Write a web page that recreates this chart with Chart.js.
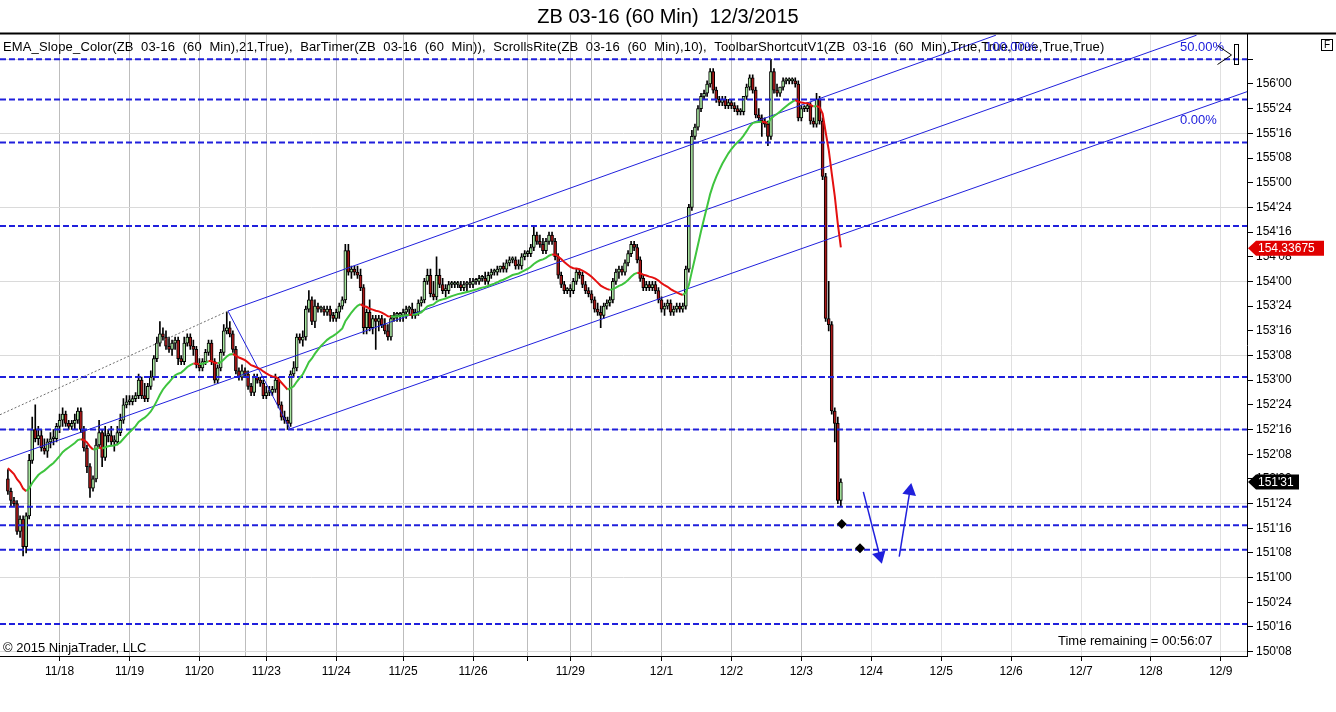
<!DOCTYPE html>
<html>
<head>
<meta charset="utf-8">
<title>ZB 03-16 (60 Min) 12/3/2015</title>
<script src="https://cdn.jsdelivr.net/npm/chart.js@4.4.1/dist/chart.umd.min.js"></script>
<style>
  html, body { margin: 0; padding: 0; background: #fff; }
  canvas { display: block; }
</style>
</head>
<body>
<canvas id="zbChart" width="1336" height="712"></canvas>
<script>
// Prices are kept in 32nds above 150'00 (63 = 151'31), one hourly bar per entry.
const BASE = 150;

const opens = [
  64,60,57,56,47,51,42,52,70,80, 77,78,74,73,76,77,77,81,83,85,
  82,81,82,83,86,80,74,68,61,64, 75,79,71,78,78,76,76,79,83,88,
  89,89,90,91,96,91,90,94,97,103, 108,111,110,107,106,108,109,103,102,108,
  110,107,106,101,100,102,105,108,102,96, 100,105,112,113,111,106,99,97,99,98,
  94,92,97,96,95,91,92,92,93,96, 88,84,83,82,98,100,110,109,110,119,
  122,115,120,119,119,118,119,117,116,118, 120,122,138,131,132,131,130,126,113,118,
  113,116,115,116,114,112,110,116,117,117, 117,118,119,119,117,118,121,122,128,130,
  124,123,130,127,125,125,127,127,127,127, 126,127,127,127,128,128,129,129,128,130,
  131,131,132,133,132,134,135,135,133,133, 136,137,137,139,143,141,140,138,141,143,
  141,136,130,127,125,125,125,128,131,130, 127,125,124,122,119,118,117,120,121,122,
  128,131,132,131,134,137,140,139,135,129, 126,127,126,127,125,122,119,120,121,118,
  119,120,119,120,132,152,175,178,184,188, 189,192,196,190,187,186,187,185,186,185,
  184,183,183,188,191,194,190,182,181,180, 179,175,196,190,189,191,193,193,193,193,
  192,181,184,184,185,180,179,187,180,162, 116,114,86,82,57
];
const highs = [
  67,61,58,57,52,52,53,72,84,88, 81,80,77,77,79,80,82,85,87,86,
  83,83,85,87,87,81,75,69,65,77, 83,80,81,80,81,78,81,85,90,91,
  91,91,92,98,97,95,95,99,104,110, 115,113,112,110,109,110,110,104,110,111,
  111,109,107,103,103,106,109,109,103,101, 106,114,118,115,112,107,100,101,100,99,
  95,98,98,97,96,94,94,94,98,97, 89,86,84,99,102,111,111,112,120,125,
  123,122,121,120,120,120,120,118,119,121, 123,140,140,133,133,133,132,127,119,122,
  117,117,117,117,116,114,117,118,118,118, 119,120,120,121,119,122,123,129,132,132,
  128,136,132,129,127,128,128,128,128,128, 128,128,129,129,129,130,130,131,131,132,
  132,133,133,134,135,136,136,136,135,137, 138,138,140,146,144,143,142,142,144,144,
  142,137,131,128,126,127,129,132,132,131, 128,126,125,123,121,120,121,122,123,129,
  132,133,133,135,138,141,141,140,136,130, 128,128,128,128,126,123,121,122,122,120,
  121,121,121,133,153,177,179,185,189,190, 193,197,197,191,188,188,188,187,187,186,
  185,184,188,192,195,195,191,184,182,181, 180,200,197,192,191,194,194,194,194,194,
  193,185,185,186,186,181,189,188,181,163, 128,115,87,84,64
];
const lows = [
  59,55,55,46,45,39,40,51,69,76, 75,73,72,71,74,75,76,79,81,81,
  80,80,80,82,79,73,66,58,60,63, 74,68,70,76,75,73,75,78,82,87,
  88,88,89,90,90,89,89,93,96,102, 107,109,106,105,104,106,101,101,101,107,
  106,104,100,99,99,101,104,101,95,95, 99,104,111,110,105,98,96,96,97,93,
  91,91,95,94,90,90,91,91,92,87, 83,82,80,81,97,99,108,107,109,118,
  114,113,118,118,117,117,115,115,115,116, 119,121,130,129,130,129,125,111,111,112,
  111,106,112,113,111,109,109,115,115,115, 115,116,117,116,116,117,120,121,127,123,
  122,122,126,124,123,124,126,126,126,125, 125,125,126,126,127,127,128,127,127,129,
  130,130,131,131,131,133,134,132,132,132, 135,136,136,138,140,139,137,137,140,140,
  135,129,126,124,124,123,124,127,129,126, 124,123,121,118,117,113,116,119,120,121,
  127,129,130,130,133,136,138,134,128,125, 125,125,125,124,121,118,117,119,117,117,
  118,118,118,119,131,151,174,177,183,187, 188,191,189,186,185,185,184,184,184,183,
  182,182,182,187,190,189,181,180,175,178, 172,174,189,188,188,190,192,192,192,191,
  180,180,183,183,179,178,178,179,161,115, 112,85,76,56,55
];
const closes = [
  60,57,56,47,51,42,52,70,80,77, 78,74,73,76,77,77,81,83,85,82,
  81,82,83,86,80,74,68,61,64,75, 79,71,78,78,76,76,79,83,88,89,
  89,90,91,96,91,90,94,97,103,108, 111,110,107,106,108,109,103,102,108,110,
  107,106,101,100,102,105,108,102,96,100, 105,112,113,111,106,99,97,99,98,94,
  92,97,96,95,91,92,92,93,96,88, 84,83,82,98,100,110,109,110,119,122,
  115,120,119,119,118,119,117,116,118,120, 122,138,131,132,131,130,126,113,118,113,
  116,115,116,114,112,110,116,117,117,117, 118,119,119,117,118,121,122,128,130,124,
  123,130,127,125,125,127,127,127,127,126, 127,127,127,128,128,129,129,128,130,131,
  131,132,133,132,134,135,135,133,133,136, 137,137,139,143,141,140,138,141,143,141,
  136,130,127,125,125,125,128,131,130,127, 125,124,122,119,118,117,120,121,122,128,
  131,132,131,134,137,140,139,135,129,126, 127,126,127,125,122,119,120,121,118,119,
  120,119,120,132,152,175,178,184,188,189, 192,196,190,187,186,187,185,186,185,184,
  183,183,188,191,194,190,182,181,180,179, 175,196,190,189,191,193,193,193,193,192,
  181,184,184,185,180,179,187,180,162,116, 114,86,82,57,63
];

// date labels sit on the bar index where that date begins
const dateTicks  = [17, 40, 63, 85, 108, 130, 153, 171, 185, 215, 238, 261, 284, 307, 330, 353, 376, 399];
const dateLabels = ['11/18','11/19','11/20','11/23','11/24','11/25','11/26','','11/29','12/1','12/2','12/3','12/4','12/5','12/6','12/7','12/8','12/9'];
const sessionBreaks = [78, 192];

// drawn horizontal levels (32nds above 150)
const levels = [200, 187, 173, 146, 97, 80, 55, 49, 41, 17];

// channel drawn on the chart, [bar, 32nds]
const upperLine  = [[72.4, 118.4], [325, 207.8]];
const middleLine = [[-2.6, 69.8], [391, 207.8]];
const lowerLine  = [[92.8, 80.2], [407.6, 189.5]];
const handleLine = [[72.4, 118.4], [92.8, 80.2]];
const dottedLine = [[-2.6, 84.8], [72.4, 118.4]];

const diamonds = [[274.3, 49.4], [280.3, 41.5]];
const arrowDown = [[281.4, 59.8], [286.8, 39.0]];
const arrowUp   = [[293.2, 38.8], [296.7, 60.1]];

const EMA_LEN = 21;
const emaStart = 67.5;       // EMA value at the first visible bar
const emaLast = 154.33675;   // value shown in the red price marker

const X_MIN = -2.6, X_MAX = 407.6;
const Y_MIN = 6.6, Y_MAX = 208;
const FONT = '"Liberation Sans", Arial, sans-serif';
const BLUE = '#2020dc';

function fmt32(t) {
  const whole = BASE + Math.floor(t / 32);
  const frac = t % 32;
  return whole + "'" + String(frac).padStart(2, '0');
}

const k = 2 / (EMA_LEN + 1);
const ema = [emaStart];
for (let i = 1; i < closes.length; i++) {
  ema.push(ema[i - 1] + k * (closes[i] - ema[i - 1]));
}

const pts = arr => arr.map(p => ({ x: p[0], y: p[1] }));
const thinLine = (arr, extra) => Object.assign({
  type: 'line', data: pts(arr), borderColor: BLUE, borderWidth: 1,
  pointRadius: 0, fill: false, order: 2
}, extra || {});

const datasets = [
  {
    type: 'bar',
    data: closes.map((c, i) => ({ x: i, y: [opens[i], c] })),
    backgroundColor: ctx => {
      const i = ctx.dataIndex;
      return closes[i] >= opens[i] ? '#a8e6a0' : '#a81818';
    },
    borderColor: '#000',
    borderWidth: 1,
    borderSkipped: false,
    barThickness: 3,
    minBarLength: 2,
    grouped: false,
    order: 4
  },
  {
    type: 'bar',
    data: closes.map((c, i) => ({ x: i, y: [lows[i], highs[i]] })),
    backgroundColor: '#000',
    borderWidth: 0,
    barThickness: 1,
    grouped: false,
    order: 5
  }
];

levels.forEach(v => {
  datasets.push({
    type: 'line',
    data: [{ x: X_MIN, y: v }, { x: X_MAX, y: v }],
    borderColor: BLUE, borderWidth: 2, borderDash: [6, 3],
    pointRadius: 0, order: 3
  });
});

datasets.push(thinLine(upperLine));
datasets.push(thinLine(middleLine));
datasets.push(thinLine(lowerLine));
datasets.push(thinLine(handleLine));
datasets.push(thinLine(dottedLine, { borderColor: '#6e6e6e', borderDash: [2, 2] }));

datasets.push({
  type: 'line',
  data: ema.map((v, i) => ({ x: i, y: v })),
  borderWidth: 2,
  pointRadius: 0,
  segment: {
    borderColor: c => c.p1.parsed.y >= c.p0.parsed.y ? '#3fc43f' : '#e41010'
  },
  order: 1
});

datasets.push(thinLine(arrowDown, { borderWidth: 1.5, order: 0 }));
datasets.push(thinLine(arrowUp, { borderWidth: 1.5, order: 0 }));
datasets.push({
  type: 'line', data: [pts(arrowDown)[1]], showLine: false,
  pointStyle: 'triangle', pointRadius: 8, pointRotation: 165,
  pointBackgroundColor: BLUE, pointBorderWidth: 0, order: 0
});
datasets.push({
  type: 'line', data: [pts(arrowUp)[1]], showLine: false,
  pointStyle: 'triangle', pointRadius: 8, pointRotation: 10,
  pointBackgroundColor: BLUE, pointBorderWidth: 0, order: 0
});
datasets.push({
  type: 'line', data: pts(diamonds), showLine: false,
  pointStyle: 'rectRot', pointRadius: 5,
  pointBackgroundColor: '#000', pointBorderWidth: 0, order: 0
});

const indicatorText = 'EMA_Slope_Color(ZB  03-16  (60  Min),21,True),  BarTimer(ZB  03-16  (60  Min)),  ' +
  'ScrollsRite(ZB  03-16  (60  Min),10),  ToolbarShortcutV1(ZB  03-16  (60  Min),True,True,True,True,True)';

function priceFlag(ctx, x, y, text, color, w) {
  ctx.fillStyle = color;
  ctx.beginPath();
  ctx.moveTo(x + 1, y);
  ctx.lineTo(x + 9, y - 7.5);
  ctx.lineTo(x + w, y - 7.5);
  ctx.lineTo(x + w, y + 7.5);
  ctx.lineTo(x + 9, y + 7.5);
  ctx.closePath();
  ctx.fill();
  ctx.fillStyle = '#fff';
  ctx.fillText(text, x + 11, y + 0.5);
}

const overlay = {
  id: 'overlay',
  afterDraw(chart) {
    const { ctx, chartArea: a } = chart;
    const y = chart.scales.y;
    ctx.save();
    ctx.strokeStyle = '#000';
    ctx.lineWidth = 2;
    ctx.beginPath();
    ctx.moveTo(0, a.top - 1);
    ctx.lineTo(chart.width, a.top - 1);
    ctx.stroke();

    ctx.textBaseline = 'middle';
    ctx.fillStyle = '#000';
    ctx.font = '13px ' + FONT;
    ctx.letterSpacing = '0.15px';
    ctx.fillText(indicatorText, 3, a.top + 12.5);
    ctx.letterSpacing = '0px';
    ctx.fillText('\u00a9 2015 NinjaTrader, LLC', 3, a.bottom - 8);
    ctx.fillText('Time remaining = 00:56:07', 1058, a.bottom - 15);

    ctx.fillStyle = BLUE;
    ctx.fillText('100.00%', 985, a.top + 12.5);
    ctx.fillText('50.00%', 1180, a.top + 12.5);
    ctx.fillText('0.00%', 1180, 120);

    ctx.font = '12px ' + FONT;
    priceFlag(ctx, a.right, y.getPixelForValue((emaLast - BASE) * 32), emaLast.toFixed(5), '#e00000', 77);
    const last = closes[closes.length - 1];
    priceFlag(ctx, a.right, y.getPixelForValue(last), fmt32(last), '#000', 52);

    // toolbar glyphs in the top right corner
    ctx.strokeStyle = '#000';
    ctx.lineWidth = 1;
    ctx.beginPath();
    ctx.moveTo(1217.5, 45.5);
    ctx.lineTo(1231.5, 55);
    ctx.lineTo(1217.5, 64.5);
    ctx.stroke();
    ctx.strokeRect(1234.5, 44.5, 4, 20);
    ctx.strokeRect(1321.5, 39.5, 11, 11);
    ctx.fillStyle = '#000';
    ctx.font = '10px ' + FONT;
    ctx.fillText('F', 1324, 45.5);
    ctx.restore();
  }
};

new Chart(document.getElementById('zbChart').getContext('2d'), {
  type: 'bar',
  data: { datasets },
  options: {
    responsive: false,
    animation: false,
    events: [],
    devicePixelRatio: 1,
    layout: { padding: 0, autoPadding: false },
    plugins: {
      legend: { display: false },
      tooltip: { enabled: false },
      title: {
        display: true,
        text: 'ZB 03-16 (60 Min)  12/3/2015',
        color: '#000',
        font: { family: FONT, size: 20, weight: 'normal' },
        padding: { top: 5, bottom: 5.6 }
      }
    },
    scales: {
      x: {
        type: 'linear',
        min: X_MIN,
        max: X_MAX,
        offset: false,
        afterBuildTicks: s => {
          s.ticks = dateTicks.concat(sessionBreaks).sort((p, q) => p - q).map(v => ({ value: v }));
        },
        afterFit: s => { s.height = 56; },
        ticks: {
          autoSkip: false,
          maxRotation: 0,
          padding: 3,
          color: '#000',
          font: { family: FONT, size: 12 },
          callback: v => {
            const i = dateTicks.indexOf(v);
            return i >= 0 ? dateLabels[i] : '';
          }
        },
        grid: {
          offset: false,
          color: c => (c.tick && c.tick.value > closes.length) ? '#e0e0e0' : '#bdbdbd',
          tickColor: c => (c.tick && sessionBreaks.includes(c.tick.value)) ? 'rgba(0,0,0,0)' : '#000',
          tickLength: 5
        },
        border: { color: '#000', width: 1 }
      },
      y: {
        type: 'linear',
        position: 'right',
        min: Y_MIN,
        max: Y_MAX,
        afterBuildTicks: s => {
          const t = [];
          for (let v = 8; v <= 204; v += 4) t.push({ value: v });
          s.ticks = t;
        },
        afterFit: s => { s.width = 89; },
        ticks: {
          padding: 3,
          color: '#000',
          font: { family: FONT, size: 12 },
          callback: v => (v % 8 === 0 && v <= 192) ? fmt32(v) : ''
        },
        grid: {
          color: c => (c.tick && (c.tick.value - 8) % 12 === 0) ? '#dadada' : 'rgba(0,0,0,0)',
          tickColor: '#000',
          tickLength: 6
        },
        border: { color: '#000', width: 1 }
      }
    }
  },
  plugins: [overlay]
});
</script>
</body>
</html>
